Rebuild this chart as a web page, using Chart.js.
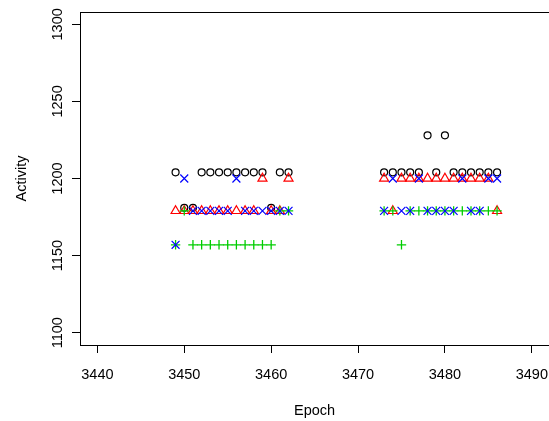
<!DOCTYPE html>
<html>
<head>
<meta charset="utf-8">
<script src="https://cdn.jsdelivr.net/npm/chart.js@4.4.1/dist/chart.umd.min.js"></script>
<style>
  html, body { margin: 0; padding: 0; background: #fff; overflow: hidden; }
  #wrap { width: 556px; height: 421px; }
</style>
</head>
<body>
<div id="wrap"><canvas id="myChart" width="556" height="421"></canvas></div>
<script>
// tick labels
const xTicks = [3440, 3450, 3460, 3470, 3480, 3490];
const yTicks = [1100, 1150, 1200, 1250, 1300];

// series: black circles
const circleEpoch = [3449, 3450, 3451, 3452, 3453, 3454, 3455, 3456, 3457, 3458, 3459, 3460, 3461, 3462,
                     3473, 3474, 3475, 3476, 3477, 3478, 3479, 3480, 3481, 3482, 3483, 3484, 3485, 3486];
const circleActivity = [1204, 1181, 1181, 1204, 1204, 1204, 1204, 1204, 1204, 1204, 1204, 1181, 1204, 1204,
                        1204, 1204, 1204, 1204, 1204, 1228, 1204, 1228, 1204, 1204, 1204, 1204, 1204, 1204];

// red triangles
const triEpoch = [3449, 3450, 3451, 3452, 3453, 3454, 3455, 3456, 3457, 3458, 3459, 3460, 3461, 3462,
                  3473, 3474, 3475, 3476, 3477, 3478, 3479, 3480, 3481, 3482, 3483, 3484, 3485, 3486];
const triActivity = [1179, 1179, 1179, 1179, 1179, 1179, 1179, 1179, 1179, 1179, 1200, 1179, 1179, 1200,
                     1200, 1179, 1200, 1200, 1200, 1200, 1200, 1200, 1200, 1200, 1200, 1200, 1200, 1179];

// green plus
const plusEpoch = [3449, 3450, 3451, 3452, 3453, 3454, 3455, 3456, 3457, 3458, 3459, 3460, 3461, 3462,
                   3473, 3474, 3475, 3476, 3477, 3478, 3479, 3480, 3481, 3482, 3483, 3484, 3485, 3486];
const plusActivity = [1157, 1179, 1157, 1157, 1157, 1157, 1157, 1157, 1157, 1157, 1157, 1157, 1179, 1179,
                      1179, 1179, 1157, 1179, 1179, 1179, 1179, 1179, 1179, 1179, 1179, 1179, 1179, 1179];

// blue x
const crossEpoch = [3449, 3450, 3451, 3452, 3453, 3454, 3455, 3456, 3457, 3458, 3459, 3460, 3461, 3462,
                    3473, 3474, 3475, 3476, 3477, 3478, 3479, 3480, 3481, 3482, 3483, 3484, 3485, 3486];
const crossActivity = [1157, 1200, 1179, 1179, 1179, 1179, 1179, 1200, 1179, 1179, 1179, 1179, 1179, 1179,
                       1179, 1200, 1179, 1179, 1200, 1179, 1179, 1179, 1179, 1200, 1179, 1179, 1200, 1200];

function pts(xs, ys) {
    return xs.map((v, i) => ({ x: v, y: ys[i] }));
}

const FONT = '14.5px "Liberation Sans", Arial, sans-serif';

// box round the plot + R style labels
const frameAndText = {
    id: 'frameAndText',
    afterDraw(chart) {
        const ctx = chart.ctx;
        const a = chart.chartArea;
        const sx = chart.scales.x, sy = chart.scales.y;
        ctx.save();
        ctx.strokeStyle = '#000';
        ctx.lineWidth = 1;
        ctx.strokeRect(Math.round(a.left) + 0.5, Math.round(a.top) + 0.5,
                       Math.round(a.right - a.left), Math.round(a.bottom - a.top));
        ctx.fillStyle = '#000';
        ctx.font = FONT;
        ctx.textAlign = 'center';
        ctx.textBaseline = 'middle';
        xTicks.forEach(v => ctx.fillText(String(v), sx.getPixelForValue(v), 375));
        yTicks.forEach(v => {
            ctx.save();
            ctx.translate(58, sy.getPixelForValue(v));
            ctx.rotate(-Math.PI / 2);
            ctx.fillText(String(v), 0, 0);
            ctx.restore();
        });
        ctx.fillText('Epoch', (a.left + a.right) / 2, 411);
        ctx.save();
        ctx.translate(22, (a.top + a.bottom) / 2);
        ctx.rotate(-Math.PI / 2);
        ctx.fillText('Activity', 0, 0);
        ctx.restore();
        ctx.restore();
    }
};

const ctx = document.getElementById('myChart').getContext('2d');
new Chart(ctx, {
    type: 'scatter',
    data: {
        datasets: [
            { label: 'o', data: pts(circleEpoch, circleActivity), pointStyle: 'circle', pointRadius: 3.5,
              borderColor: '#000000', backgroundColor: 'rgba(0,0,0,0)', borderWidth: 1.2, order: 4 },
            { label: 'tri', data: pts(triEpoch, triActivity), pointStyle: 'triangle', pointRadius: 5.2,
              borderColor: '#ff0000', backgroundColor: 'rgba(0,0,0,0)', borderWidth: 1.2, order: 3 },
            { label: 'plus', data: pts(plusEpoch, plusActivity), pointStyle: 'cross', pointRadius: 4.7,
              borderColor: '#00cd00', backgroundColor: 'rgba(0,0,0,0)', borderWidth: 1.3, order: 2 },
            { label: 'x', data: pts(crossEpoch, crossActivity), pointStyle: 'crossRot', pointRadius: 5.6,
              borderColor: '#0000ff', backgroundColor: 'rgba(0,0,0,0)', borderWidth: 1.2, order: 1 }
        ]
    },
    options: {
        responsive: false,
        animation: false,
        devicePixelRatio: 1,
        layout: { padding: { top: 12, right: 2, left: 0, bottom: 0 } },
        plugins: { legend: { display: false }, tooltip: { enabled: false } },
        scales: {
            x: {
                type: 'linear',
                min: 3438, max: 3492,
                afterBuildTicks: s => { s.ticks = xTicks.map(v => ({ value: v })); },
                afterFit: s => { s.height = 76; },
                ticks: { display: false },
                border: { display: false },
                grid: { drawOnChartArea: false, drawTicks: true, tickLength: 8, color: '#000', lineWidth: 1 }
            },
            y: {
                type: 'linear',
                min: 1092, max: 1308,
                afterBuildTicks: s => { s.ticks = yTicks.map(v => ({ value: v })); },
                afterFit: s => { s.width = 80; },
                ticks: { display: false },
                border: { display: false },
                grid: { drawOnChartArea: false, drawTicks: true, tickLength: 8, color: '#000', lineWidth: 1 }
            }
        }
    },
    plugins: [frameAndText]
});
</script>
</body>
</html>
